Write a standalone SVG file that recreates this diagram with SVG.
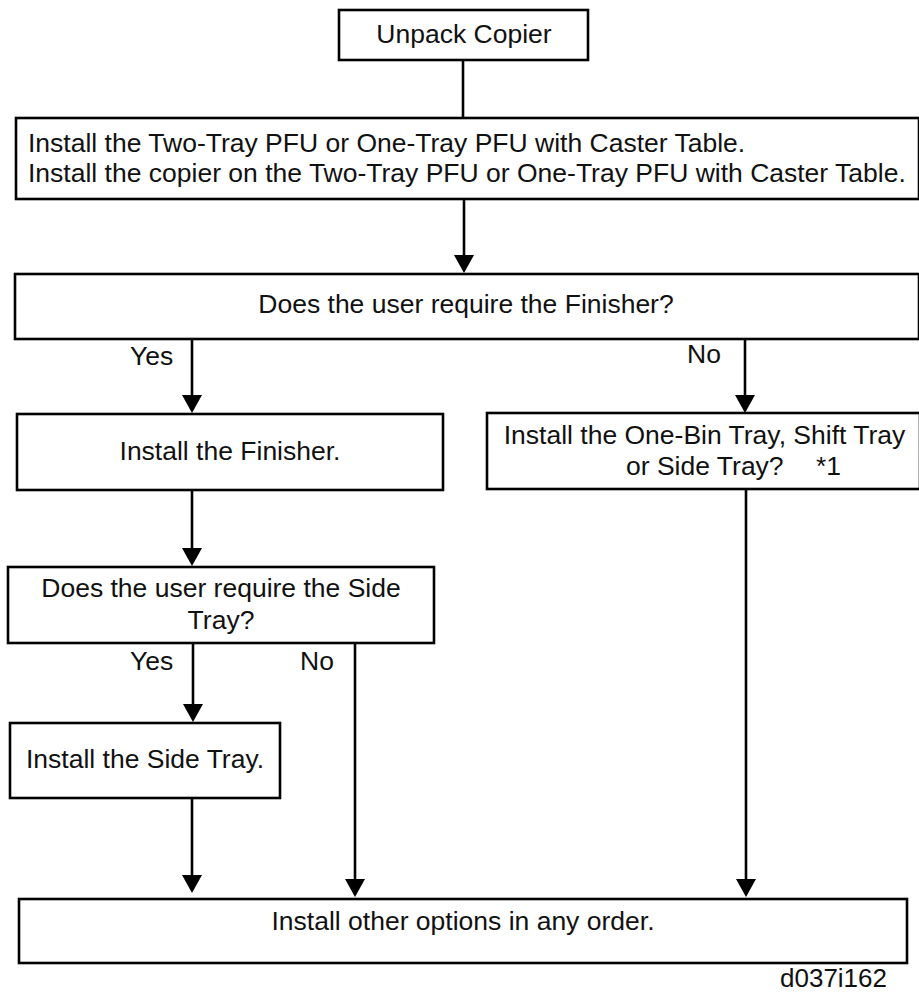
<svg xmlns="http://www.w3.org/2000/svg" width="919" height="994" viewBox="0 0 919 994">
<style>
.box{fill:#fff;stroke:#000;stroke-width:2.6}
.t{font-family:"Liberation Sans",Arial,sans-serif;font-size:26.5px;fill:#111}
.c{text-anchor:middle}
.ln{fill:none;stroke:#000;stroke-width:2.6}
</style>
<defs>
<marker id="ah" markerUnits="userSpaceOnUse" markerWidth="20" markerHeight="20" viewBox="0 0 18 20" refX="9" refY="10" orient="auto">
<path d="M0,0 L18,10 L0,20 z" fill="#000"/>
</marker>
</defs>
<rect width="919" height="994" fill="#fff"/>
<g id="connectors">
<line class="ln" x1="463" y1="60" x2="463" y2="118"/>
<line class="ln" x1="464" y1="199" x2="464" y2="264" marker-end="url(#ah)"/>
<line class="ln" x1="192" y1="339" x2="192" y2="404" marker-end="url(#ah)"/>
<line class="ln" x1="745" y1="339" x2="745" y2="404" marker-end="url(#ah)"/>
<line class="ln" x1="192" y1="490" x2="192" y2="557" marker-end="url(#ah)"/>
<line class="ln" x1="193" y1="643" x2="193" y2="713" marker-end="url(#ah)"/>
<line class="ln" x1="192" y1="798" x2="192" y2="884" marker-end="url(#ah)"/>
<line class="ln" x1="355" y1="643" x2="355" y2="888" marker-end="url(#ah)"/>
<line class="ln" x1="746" y1="489" x2="746" y2="888" marker-end="url(#ah)"/>
<text class="t" x="130" y="365">Yes</text>
<text class="t" x="687" y="363">No</text>
<text class="t" x="130" y="670">Yes</text>
<text class="t" x="300" y="670">No</text>
</g>
<g id="unpack">
<rect class="box" x="339" y="10" width="249" height="50"/>
<text class="t c" x="464" y="43">Unpack Copier</text>
</g>
<g id="install-pfu">
<rect class="box" x="16" y="118" width="903" height="81"/>
<text class="t" x="28" y="152">Install the Two-Tray PFU or One-Tray PFU with Caster Table.</text>
<text class="t" x="28" y="182">Install the copier on the Two-Tray PFU or One-Tray PFU with Caster Table.</text>
</g>
<g id="q-finisher">
<rect class="box" x="15" y="274" width="904" height="65"/>
<text class="t c" x="466" y="313">Does the user require the Finisher?</text>
</g>
<g id="install-finisher">
<rect class="box" x="17" y="414" width="426" height="76"/>
<text class="t c" x="230" y="460">Install the Finisher.</text>
</g>
<g id="install-tray">
<rect class="box" x="487" y="413" width="433" height="76"/>
<text class="t c" x="704.5" y="444">Install the One-Bin Tray, Shift Tray</text>
<text class="t" x="626" y="475">or Side Tray?</text>
<text class="t" x="816" y="475">*1</text>
</g>
<g id="q-sidetray">
<rect class="box" x="8" y="567" width="426" height="76"/>
<text class="t c" x="221" y="597">Does the user require the Side</text>
<text class="t c" x="221" y="629">Tray?</text>
</g>
<g id="install-sidetray">
<rect class="box" x="10" y="723" width="270" height="75"/>
<text class="t c" x="145" y="768">Install the Side Tray.</text>
</g>
<g id="install-other">
<rect class="box" x="19" y="899" width="888" height="64"/>
<text class="t c" x="463" y="930">Install other options in any order.</text>
</g>
<text class="t" x="780" y="987" style="font-size:26px">d037i162</text>
</svg>
